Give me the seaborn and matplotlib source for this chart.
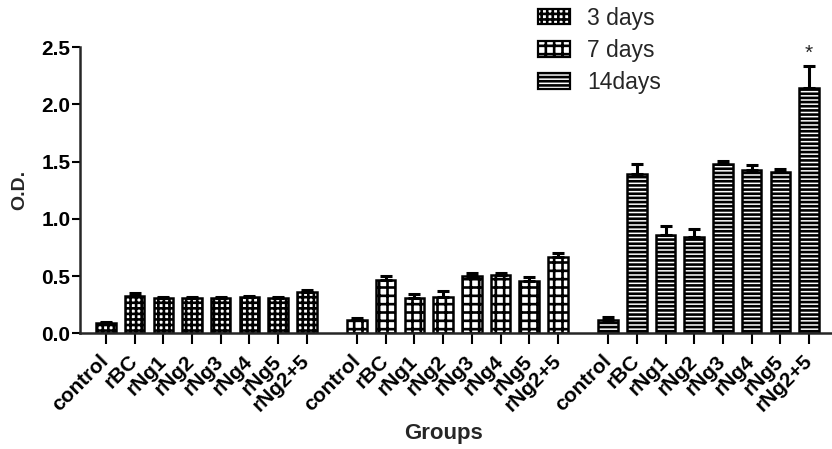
import numpy as np
import pandas as pd
import matplotlib
matplotlib.use("Agg")
import matplotlib.pyplot as plt
import matplotlib.patches as mpatches
import seaborn as sns

# values
groups = ["control", "rBC", "rNg1", "rNg2", "rNg3", "rNg4", "rNg5", "rNg2+5"]
days = ["3 days", "7 days", "14days"]

od_3 = [0.09, 0.33, 0.31, 0.31, 0.31, 0.32, 0.31, 0.36]
err_3 = [0.005, 0.02, 0.01, 0.01, 0.01, 0.01, 0.01, 0.015]
od_7 = [0.12, 0.47, 0.31, 0.32, 0.50, 0.51, 0.46, 0.67]
err_7 = [0.01, 0.03, 0.03, 0.05, 0.03, 0.02, 0.03, 0.03]
od_14 = [0.12, 1.39, 0.86, 0.845, 1.48, 1.43, 1.41, 2.14]
err_14 = [0.02, 0.09, 0.08, 0.07, 0.03, 0.04, 0.03, 0.20]

group_offsets = [0.0, 8.75, 17.5]

rows = []
for d, off, vals, errs in zip(days, group_offsets, [od_3, od_7, od_14], [err_3, err_7, err_14]):
    for i, (g, v, e) in enumerate(zip(groups, vals, errs)):
        rows.append({"day": d, "group": g, "pos": off + i, "od": v, "err": e})
df = pd.DataFrame(rows)

sns.set_style("ticks")
plt.rcParams["font.family"] = ["Liberation Sans", "DejaVu Sans"]
plt.rcParams["hatch.linewidth"] = 1.9

fig = plt.figure(figsize=(8.32, 4.49), dpi=100)
ax = fig.add_axes([0.0962, 0.2577, 0.9038, 0.637])

sns.barplot(data=df, x="pos", y="od", hue="day", hue_order=days,
            native_scale=True, dodge=False, width=0.68,
            palette={d: "white" for d in days}, edgecolor="black",
            linewidth=1.8, errorbar=None, legend=False, ax=ax)

hatches = ["+++", "++", "----"]
for cont, h in zip(ax.containers, hatches):
    for bar in cont:
        bar.set_hatch(h)

# upper error bars only
ax.errorbar(df["pos"], df["od"], yerr=[np.zeros(len(df)), df["err"]], fmt="none",
            ecolor="black", elinewidth=2.2, capsize=4, capthick=2.2, zorder=3)

last = df.iloc[-1]
ax.text(last["pos"], last["od"] + last["err"] + 0.02, "*", ha="center", va="bottom", fontsize=15)

ax.set_xlim(-0.9, 25.3)
ax.set_ylim(0, 2.5)
ax.set_yticks([0, 0.5, 1.0, 1.5, 2.0, 2.5])
sns.despine(ax=ax)
for s in ["left", "bottom"]:
    ax.spines[s].set_linewidth(1.8)

ax.set_xticks(df["pos"])
ax.set_xticklabels(df["group"], rotation=45, ha="right", va="center",
                   rotation_mode="anchor", fontsize=15, fontweight="bold")
ax.tick_params(axis="x", length=8, width=1.5, pad=10, colors="black")
ax.tick_params(axis="y", length=6, width=1.5, pad=1, labelsize=15, colors="black")
for lab in ax.get_yticklabels():
    lab.set_fontweight("bold")

ax.set_xlabel("Groups", fontsize=16, fontweight="bold", va="center")
ax.xaxis.set_label_coords(0.483, -0.35)
ax.set_ylabel("O.D.", fontsize=14, fontweight="bold", va="center")
ax.yaxis.set_label_coords(-0.08, 0.5)

handles = [mpatches.Patch(facecolor="white", edgecolor="black", hatch=h, linewidth=1.6, label=d)
           for d, h in zip(days, hatches)]
fig.legend(handles=handles, loc="upper left", bbox_to_anchor=(0.6466, 0.985), frameon=False,
           fontsize=16.5, handlelength=1.4, handleheight=0.65, handletextpad=0.75,
           labelspacing=0.4, borderpad=0, borderaxespad=0)

fig.savefig("out.png", dpi=100)
